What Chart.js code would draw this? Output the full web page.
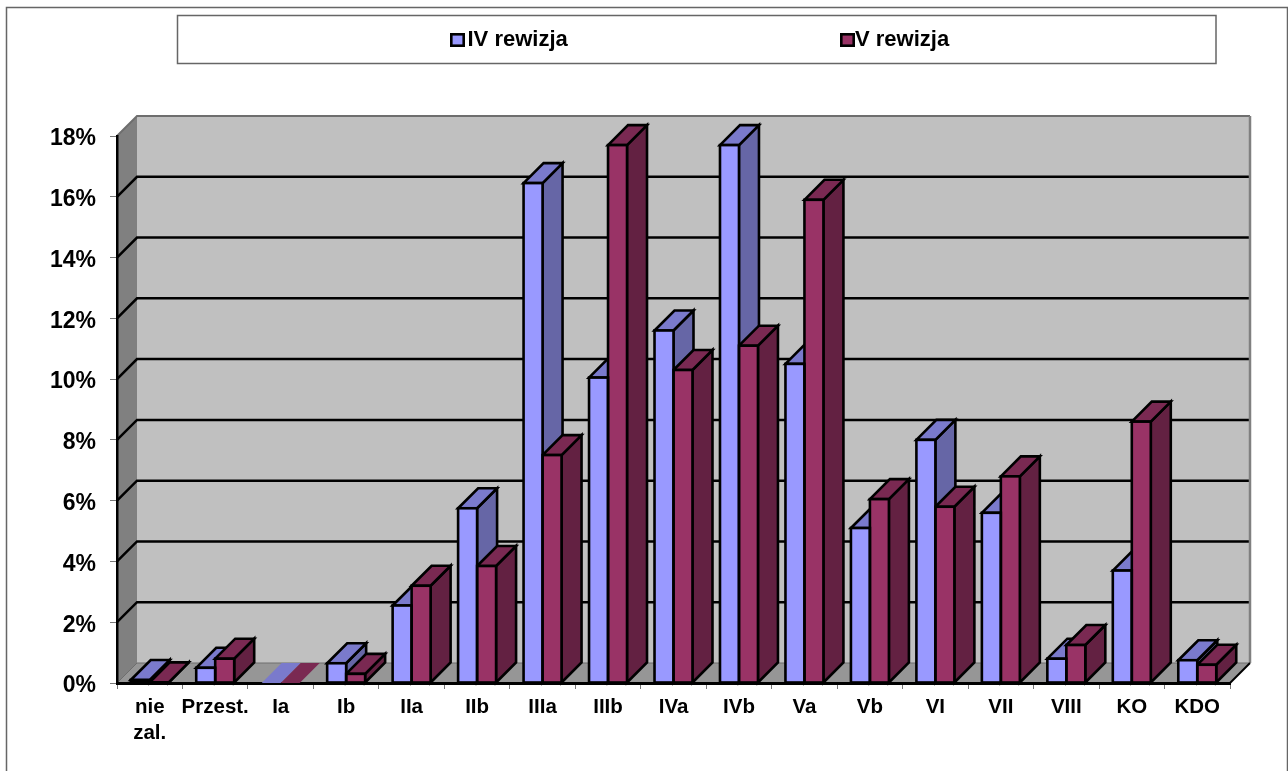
<!DOCTYPE html>
<html><head><meta charset="utf-8">
<style>html,body{margin:0;padding:0;background:#fff}canvas{display:block}</style>
<script src="https://cdn.jsdelivr.net/npm/chart.js@4"></script></head>
<body><canvas id="c" width="1288" height="771"></canvas>
<script>
const categories=[["nie","zal."],"Przest.","Ia","Ib","IIa","IIb","IIIa","IIIb","IVa","IVb","Va","Vb","VI","VII","VIII","KO","KDO"];
const rewizja4=[0.1,0.5,0,0.65,2.55,5.75,16.45,10.05,11.6,17.7,10.5,5.1,8.0,5.6,0.8,3.7,0.75];
const rewizja5=[0.02,0.8,0,0.3,3.2,3.85,7.5,17.7,10.3,11.1,15.9,6.05,5.8,6.8,1.25,8.6,0.6];
const seriesNames=["IV rewizja","V rewizja"];
const frontColors=["#9999FF","#993366"];
const topColors=["#7A7ACC","#7A2952"];
const sideColors=["#6666A6","#632142"];
const DEPTH=20;
const FONT='"Liberation Sans", Arial, sans-serif';
function poly(ctx,pts,fill,stroke,lw){
  ctx.beginPath();pts.forEach((p,i)=>i?ctx.lineTo(p[0],p[1]):ctx.moveTo(p[0],p[1]));ctx.closePath();
  if(fill){ctx.fillStyle=fill;ctx.fill();}
  if(stroke){ctx.strokeStyle=stroke;ctx.lineWidth=lw||2;ctx.lineJoin='miter';ctx.stroke();}
}
const scene={
  id:'scene',
  beforeDraw(chart){
    const {ctx,chartArea:a,scales:{y}}=chart;const d=DEPTH;
    ctx.save();
    ctx.fillStyle='#fff';ctx.fillRect(0,0,1288,771);
    ctx.strokeStyle='#666';ctx.lineWidth=1.5;
    ctx.beginPath();ctx.moveTo(6.5,771);ctx.lineTo(6.5,7.5);ctx.lineTo(1287.5,7.5);ctx.lineTo(1287.5,771);ctx.stroke();
    ctx.strokeRect(177.5,15.5,1038.5,48);
    poly(ctx,[[a.left+d,a.top-d],[a.right+d,a.top-d],[a.right+d,a.bottom-d],[a.left+d,a.bottom-d]],'#C0C0C0');
    poly(ctx,[[a.left,a.top],[a.left+d,a.top-d],[a.left+d,a.bottom-d],[a.left,a.bottom]],'#808080');
    poly(ctx,[[a.left,a.bottom],[a.left+d,a.bottom-d],[a.right+d,a.bottom-d],[a.right,a.bottom]],'#969696');
    y.ticks.forEach(t=>{
      const py=y.getPixelForValue(t.value);
      const top=t.value===18,zero=t.value===0;
      ctx.beginPath();ctx.moveTo(a.left,py);ctx.lineTo(a.left+d,py-d);ctx.lineTo(a.right+d,py-d);
      ctx.strokeStyle=top||zero?'#6e6e6e':'#000';ctx.lineWidth=top?2:(zero?1:2.5);
      ctx.stroke();
    });
    ctx.strokeStyle='#808080';ctx.lineWidth=2.5;
    ctx.beginPath();ctx.moveTo(a.right+d,a.top-d);ctx.lineTo(a.right+d,a.bottom-d);ctx.stroke();
    ctx.strokeStyle='#000';ctx.lineWidth=2;
    ctx.beginPath();ctx.moveTo(a.right,a.bottom);ctx.lineTo(a.right+d,a.bottom-d);ctx.stroke();
    const xs=[451.3,841.3],tx=[467.5,855];
    ctx.font='bold 22px '+FONT;ctx.textBaseline='middle';ctx.textAlign='left';
    seriesNames.forEach((n,i)=>{
      ctx.fillStyle=frontColors[i];ctx.fillRect(xs[i],34.3,12.4,11.4);
      ctx.strokeStyle='#000';ctx.lineWidth=2.6;ctx.strokeRect(xs[i],34.3,12.4,11.4);
      ctx.fillStyle='#000';ctx.fillText(n,tx[i],39.5);
    });
    ctx.restore();
  },
  beforeDatasetsDraw(chart){
    const ctx=chart.ctx,d=DEPTH;ctx.save();
    categories.forEach((_,i)=>{
      chart.data.datasets.forEach((ds,k)=>{
        const b=chart.getDatasetMeta(k).data[i];
        const l=b.x-b.width/2,r=b.x+b.width/2,t=b.y,bt=b.base;
        const st=ds.data[i]>0?'#000':null;
        if(st)poly(ctx,[[r,t],[r+d,t-d],[r+d,bt-d],[r,bt]],sideColors[k],st,2.6);
        poly(ctx,[[l,t],[l+d,t-d],[r+d,t-d],[r,t]],topColors[k],st,2.6);
      });
    });
    ctx.restore();
  },
  afterDatasetsDraw(chart){
    const ctx=chart.ctx;ctx.save();ctx.strokeStyle='#000';ctx.lineWidth=2.6;
    chart.data.datasets.forEach((ds,k)=>{
      chart.getDatasetMeta(k).data.forEach((b,i)=>{
        if(ds.data[i]>0)ctx.strokeRect(b.x-b.width/2,b.y,b.width,b.base-b.y);
      });
    });
    ctx.restore();
  }
};
new Chart(document.getElementById('c'),{
  type:'bar',
  data:{labels:categories,datasets:[
    {label:seriesNames[0],data:rewizja4,backgroundColor:frontColors[0],borderWidth:0},
    {label:seriesNames[1],data:rewizja5,backgroundColor:frontColors[1],borderWidth:0}
  ]},
  options:{
    responsive:false,animation:false,
    layout:{padding:{left:0,top:136,right:58,bottom:0}},
    categoryPercentage:0.58,barPercentage:1,
    plugins:{legend:{display:false},tooltip:{enabled:false},title:{display:false}},
    scales:{
      x:{
        offset:true,
        grid:{drawOnChartArea:false,drawTicks:true,tickLength:6,color:'#777',offset:true},
        border:{color:'#000',width:3},
        ticks:{color:'#000',font:{family:FONT,size:20.5,weight:'bold',lineHeight:1.27},padding:5,maxRotation:0,minRotation:0,autoSkip:false},
        afterFit(s){s.height=88;}
      },
      y:{
        min:0,max:18,
        grid:{drawOnChartArea:false,drawTicks:true,tickLength:7,color:'#777'},
        border:{color:'#000',width:2.5},
        ticks:{color:'#000',stepSize:2,font:{family:FONT,size:23,weight:'bold'},padding:14,labelOffset:3,callback:v=>v+'%'},
        afterFit(s){s.width=117;}
      }
    }
  },
  plugins:[scene]
});
</script></body></html>
